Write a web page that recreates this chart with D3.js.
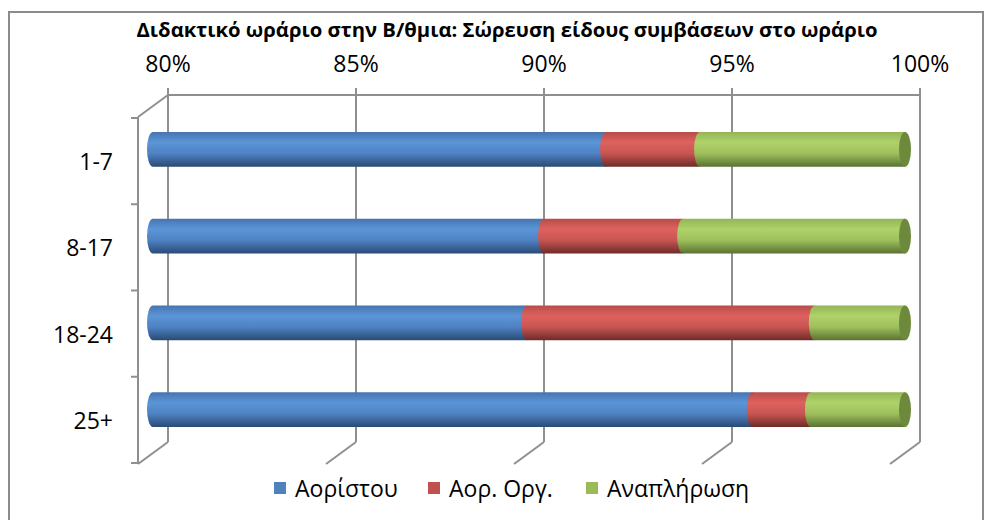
<!DOCTYPE html>
<html>
<head>
<meta charset="utf-8">
<script src="https://cdn.jsdelivr.net/npm/d3@7"></script>
<style>
  body { margin: 0; background: #fff; }
  text { font-family: "Open Sans", "Noto Sans", sans-serif; fill: #000; }
</style>
</head>
<body>
<svg id="chart" width="989" height="520"></svg>
<script>
var title = 'Διδακτικό ωράριο  στην Β/θμια: Σώρευση είδους συμβάσεων στο ωράριο';
var categories = ['1-7', '8-17', '18-24', '25+'];
var seriesNames = ['Αορίστου', 'Αορ. Οργ.', 'Αναπλήρωση'];
// share of each contract type, percent
var aoristou   = [92.05, 90.4, 89.95, 95.95];
var aorOrg     = [2.5, 3.7, 7.65, 1.55];
var anaplirosi = [5.45, 5.9, 2.4, 2.5];
var ticks = [0.80, 0.85, 0.90, 0.95, 1.00];

var svg = d3.select('#chart');

// outer frame
svg.append('rect')
  .attr('x', 9).attr('y', 12)
  .attr('width', 974).attr('height', 520)
  .attr('fill', 'none')
  .attr('stroke', '#8c8c8c')
  .attr('stroke-width', 2);

svg.append('text')
  .attr('x', 507).attr('y', 37)
  .attr('text-anchor', 'middle')
  .attr('font-weight', 'bold')
  .attr('font-size', 19)
  .attr('textLength', 741)
  .attr('lengthAdjust', 'spacingAndGlyphs')
  .text(title);

// 3d box: back wall and depth offset
var depthX = -30, depthY = 22;
var backTop = 95, backBottom = 442;
var xBack = d3.scaleLinear().domain([0.8, 1]).range([168, 920]);
var xBar = d3.scaleLinear().domain([0.8, 1]).range([168 + depthX / 2, 920 + depthX / 2]);
var yFront = d3.scaleBand().domain(categories).range([backTop + depthY + 1, backBottom + depthY - 1]);
var yBar = d3.scaleBand().domain(categories)
  .range([backTop + depthY / 2, backBottom + depthY / 2])
  .paddingInner(0.6).paddingOuter(0.3);

var grid = svg.append('g')
  .attr('stroke', '#8f8f8f')
  .attr('stroke-width', 2)
  .attr('fill', 'none');

grid.selectAll('line.v')
  .data(ticks)
  .enter()
  .append('line')
  .attr('class', 'v')
  .attr('x1', function(d) { return xBack(d); })
  .attr('x2', function(d) { return xBack(d); })
  .attr('y1', backTop - 7)
  .attr('y2', backBottom);

grid.selectAll('line.floor')
  .data(ticks)
  .enter()
  .append('line')
  .attr('class', 'floor')
  .attr('x1', function(d) { return xBack(d); })
  .attr('y1', backBottom)
  .attr('x2', function(d) { return xBack(d) + depthX; })
  .attr('y2', backBottom + depthY);

grid.append('line')
  .attr('x1', xBack(0.8)).attr('x2', xBack(1))
  .attr('y1', backTop).attr('y2', backTop);

grid.append('line')
  .attr('x1', xBack(0.8)).attr('y1', backTop)
  .attr('x2', xBack(0.8) + depthX).attr('y2', backTop + depthY);

var frontX = xBack(0.8) + depthX;
grid.append('line')
  .attr('x1', frontX).attr('x2', frontX)
  .attr('y1', backTop + depthY).attr('y2', backBottom + depthY);

var bounds = categories.map(function(c) { return yFront(c); });
bounds.push(yFront(categories[categories.length - 1]) + yFront.bandwidth());
grid.selectAll('line.tick')
  .data(bounds)
  .enter()
  .append('line')
  .attr('class', 'tick')
  .attr('x1', frontX - 7).attr('x2', frontX)
  .attr('y1', function(d) { return d; })
  .attr('y2', function(d) { return d; });

svg.append('g').selectAll('text')
  .data(ticks)
  .enter()
  .append('text')
  .attr('x', function(d) { return xBack(d); })
  .attr('y', 72)
  .attr('text-anchor', 'middle')
  .attr('font-size', 23)
  .text(d3.format('.0%'));

svg.append('g').selectAll('text')
  .data(categories)
  .enter()
  .append('text')
  .attr('x', 113)
  .attr('y', function(d) { return yFront(d) + yFront.bandwidth() / 2 + 9; })
  .attr('text-anchor', 'end')
  .attr('font-size', 23)
  .text(function(d) { return d; });

// cylinder shading
var shades = [
  {base: '#4f81bd', stops: ['#4675b0', '#5b95d8', '#4e82c3', '#2a4a74']},
  {base: '#c0504d', stops: ['#b84c49', '#de625e', '#c75552', '#6e2b29']},
  {base: '#9bbb59', stops: ['#93b555', '#b0d26a', '#9ebf5c', '#5a7331']}
];
var capColors = ['#3c6294', '#93403d', '#6d8a3c'];

var defs = svg.append('defs');
shades.forEach(function(s, i) {
  var g = defs.append('linearGradient')
    .attr('id', 'cyl' + i)
    .attr('x1', 0).attr('y1', 0).attr('x2', 0).attr('y2', 1);
  [0, 0.3, 0.62, 1].forEach(function(o, j) {
    g.append('stop').attr('offset', o).attr('stop-color', s.stops[j]);
  });
});

var series = [aoristou, aorOrg, anaplirosi];
var stacked = categories.map(function(c, i) {
  var acc = 0;
  return series.map(function(vals, k) {
    var seg = {cat: c, k: k, x0: acc / 100, x1: (acc + vals[i]) / 100};
    acc += vals[i];
    return seg;
  });
});

var rx = 6;
var bars = svg.append('g');
stacked.forEach(function(segs) {
  var row = bars.append('g');
  var top = yBar(segs[0].cat), h = yBar.bandwidth(), bottom = top + h;

  segs.forEach(function(s) {
    var a = xBar(Math.max(0.8, s.x0));
    var b = xBar(Math.min(1, s.x1));
    if (b <= a) return;
    row.append('path')
      .attr('d', 'M' + a + ',' + top +
        'A' + rx + ',' + (h / 2) + ' 0 0 0 ' + a + ',' + bottom +
        'L' + b + ',' + bottom + 'L' + b + ',' + top + 'Z')
      .attr('fill', 'url(#cyl' + s.k + ')');
  });

  var last = segs[segs.length - 1];
  row.append('ellipse')
    .attr('cx', xBar(Math.min(1, last.x1)))
    .attr('cy', top + h / 2)
    .attr('rx', rx)
    .attr('ry', h / 2)
    .attr('fill', capColors[last.k]);
});

// legend
var legendX = [274, 428, 586];
var legend = svg.append('g');
seriesNames.forEach(function(name, i) {
  legend.append('rect')
    .attr('x', legendX[i]).attr('y', 482)
    .attr('width', 12).attr('height', 12)
    .attr('fill', shades[i].base);
  legend.append('text')
    .attr('x', legendX[i] + 21).attr('y', 497)
    .attr('font-size', 23)
    .text(name);
});
</script>
</body>
</html>
